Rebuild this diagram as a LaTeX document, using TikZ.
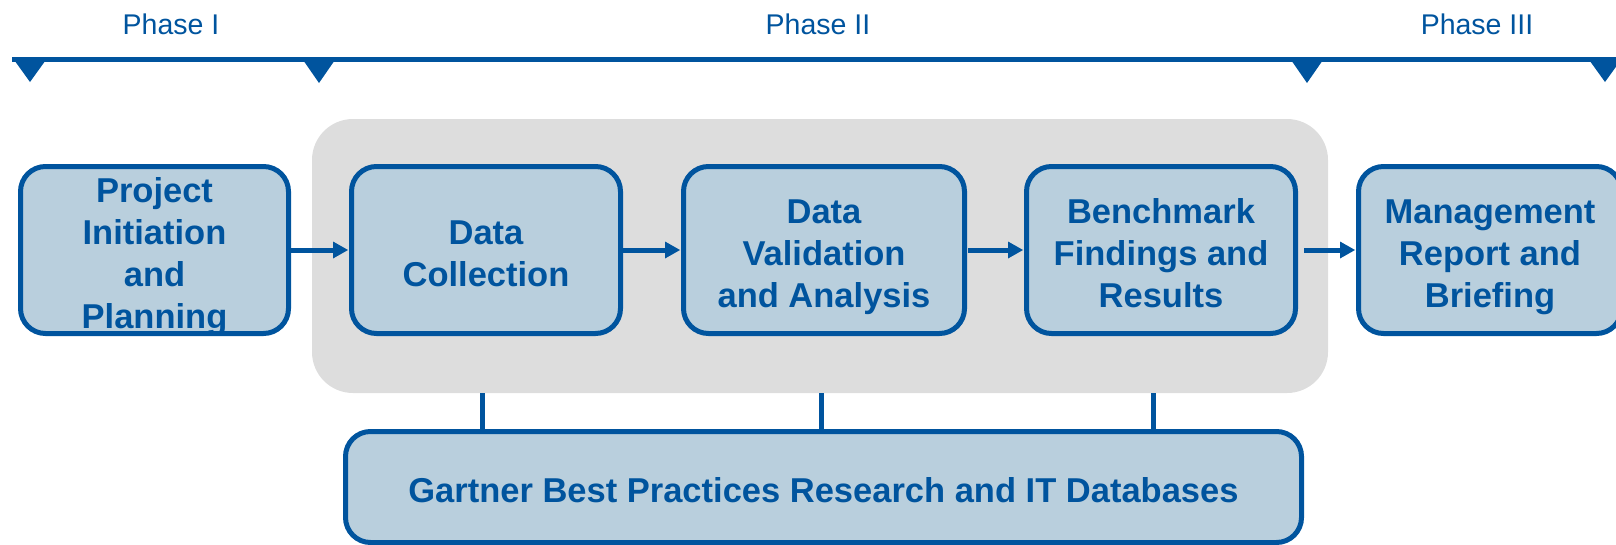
\documentclass[tikz,border=0pt]{standalone}
\usepackage{fontspec}
\setmainfont{Liberation Sans}
\usetikzlibrary{arrows.meta}

\definecolor{navy}{RGB}{0,84,158}
\definecolor{boxfill}{RGB}{185,207,221}
\definecolor{panel}{RGB}{221,221,221}

% invisible strut that gives the first text line a little extra headroom
\newcommand\headroom{\rule{0pt}{31pt}}
% last line whose descenders should not shift the block upwards
\newcommand\flatline[1]{\raisebox{0pt}[\height][0pt]{#1}}

\begin{document}
\begin{tikzpicture}[x=1pt,y=-1pt,
  stage/.style={draw=navy, fill=boxfill, line width=5pt, rounded corners=25pt,
    inner sep=0pt, minimum height=167pt, align=center, text=navy,
    font=\bfseries\fontsize{34.5}{42}\selectfont},
  phase/.style={text=navy, font=\fontsize{28.5}{34}\selectfont, inner sep=0pt},
  flow/.style={draw=navy, line width=5pt,
    -{Triangle[length=15pt,width=17pt,line width=0pt]}},
  link/.style={draw=navy, line width=5pt}]
\useasboundingbox (0,0) rectangle (1616,544);

% timeline with phase markers
\draw[navy, line width=5pt] (12,59.5) -- (1616,59.5);
\fill[navy] (12,57) -- (48,57) -- (30,82) -- cycle;
\fill[navy] (301,57) -- (337,57) -- (319,83) -- cycle;
\fill[navy] (1289,57) -- (1325,57) -- (1307,83) -- cycle;
\fill[navy] (1587,57) -- (1623,57) -- (1605,82) -- cycle;

\node[phase] (p1) at (171,24) {Phase I};
\node[phase] (p2) at (818,24) {Phase II};
\node[phase] (p3) at (1477,24) {Phase III};

% shaded panel grouping the Phase II stages
\node[fill=panel, rounded corners=41pt, minimum width=1016pt, minimum height=274pt,
  inner sep=0pt] (bg) at (820,256) {};

% process stages
\node[stage, minimum width=268pt] (b1) at (154.5,250)
  {\headroom Project\\Initiation\\and\\\flatline{Planning}};
\node[stage, minimum width=269pt] (b2) at (486,250)
  {\headroom Data\\Collection};
\node[stage, minimum width=281pt] (b3) at (824,250)
  {\headroom Data\\Validation\\\flatline{and Analysis}};
\node[stage, minimum width=269pt] (b4) at (1161,250)
  {\headroom Benchmark\\Findings and\\Results};
\node[stage, minimum width=263pt] (b5) at (1490,250)
  {\headroom Management\\Report and\\\flatline{Briefing}};

% supporting knowledge base
\node[stage, minimum width=956pt, minimum height=111pt] (db) at (823.5,487)
  {\headroom\flatline{Gartner Best Practices Research and IT Databases}};

% flow between stages
\draw[flow, shorten <=-1pt, shorten >=1pt] (b1.east) -- (b2.west);
\draw[flow, shorten <=-1pt, shorten >=1pt] (b2.east) -- (b3.west);
\draw[flow, shorten <=1pt, shorten >=1pt] (b3.east) -- (b4.west);
\draw[flow, shorten <=6pt, shorten >=1pt] (b4.east) -- (b5.west);

% links from the panel down to the knowledge base
\coordinate (l1) at (482,0);
\coordinate (l2) at (821,0);
\coordinate (l3) at (1153,0);
\draw[link] (bg.south -| l1) -- (db.north -| l1);
\draw[link] (bg.south -| l2) -- (db.north -| l2);
\draw[link] (bg.south -| l3) -- (db.north -| l3);
\end{tikzpicture}
\end{document}
